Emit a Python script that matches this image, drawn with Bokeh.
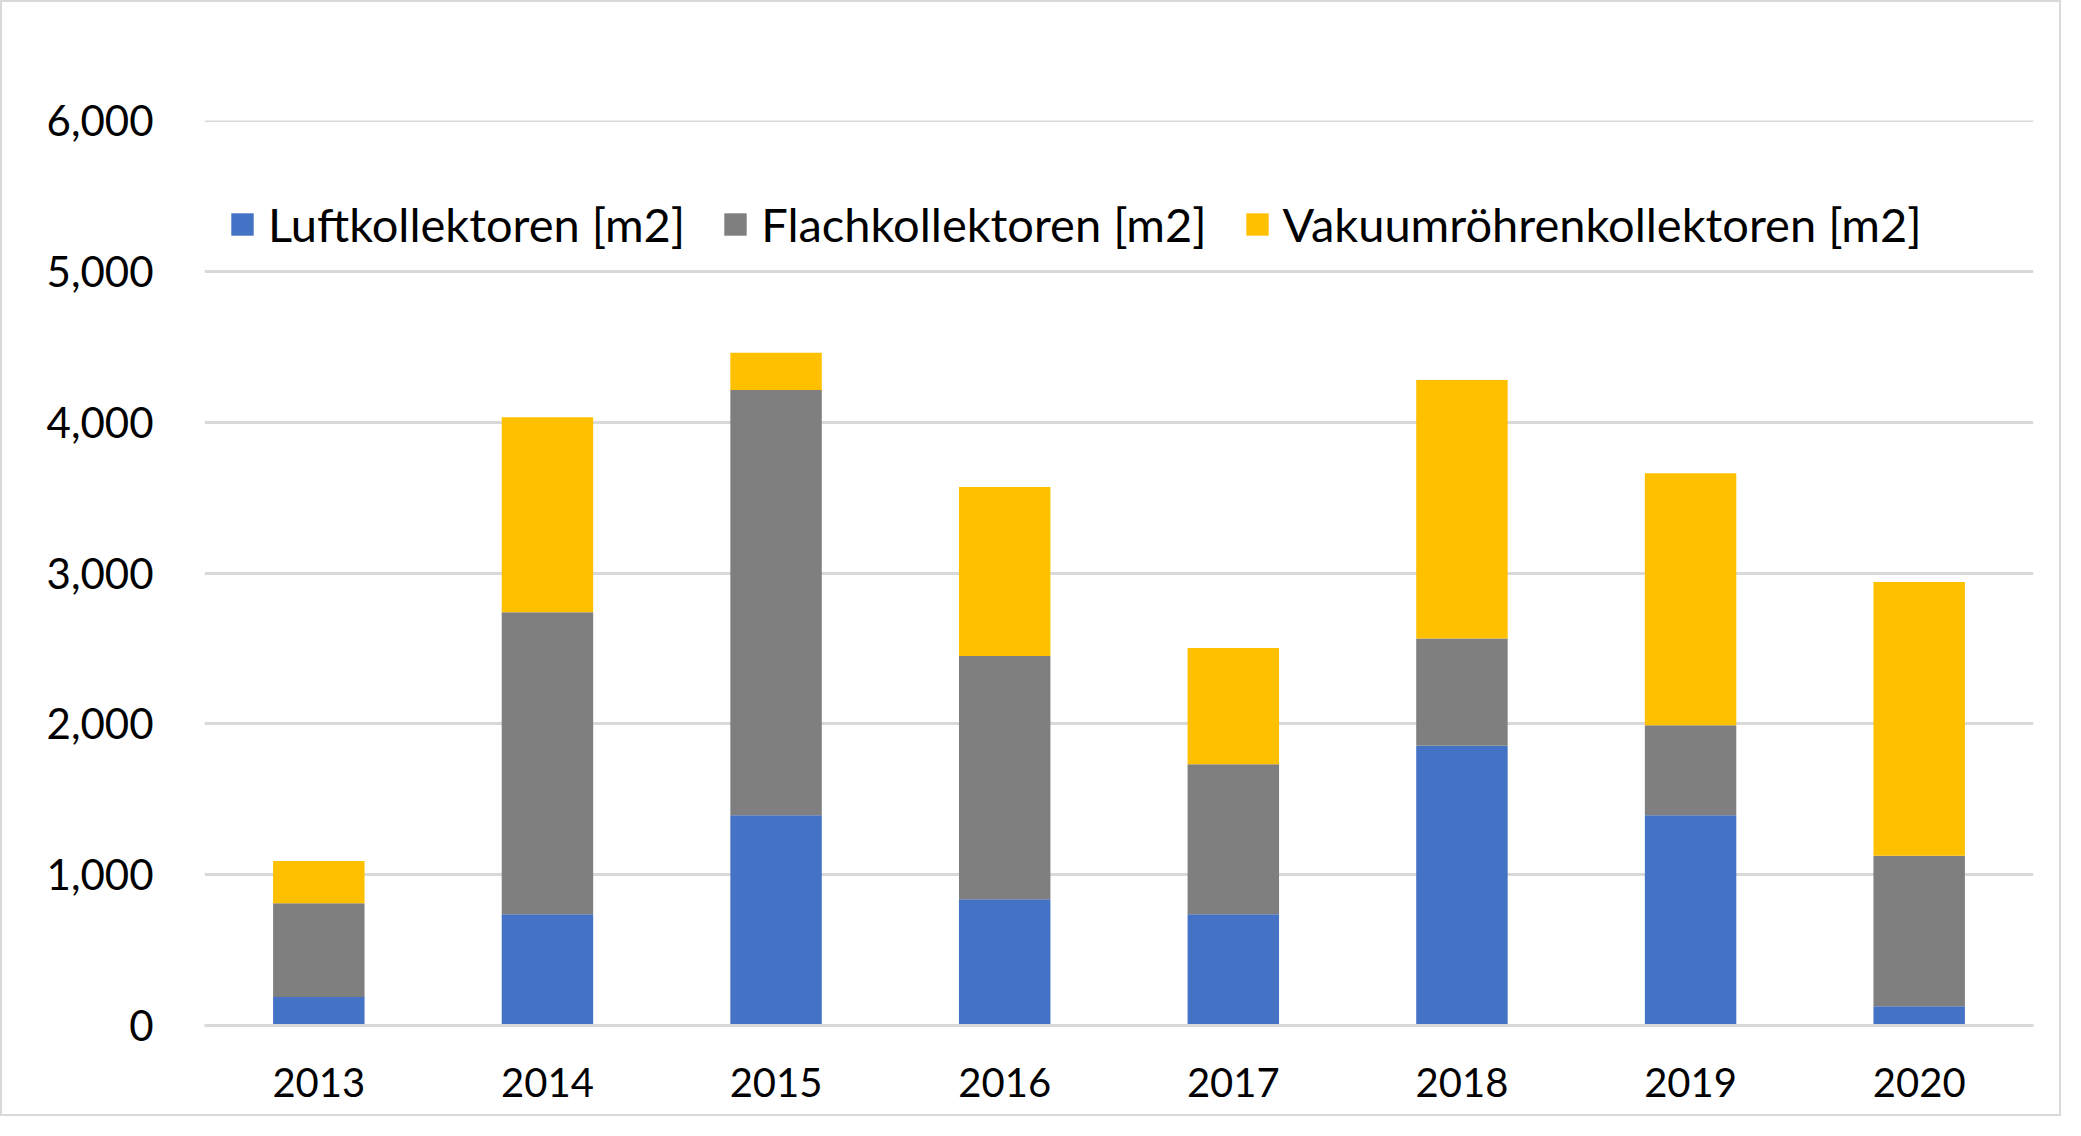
from bokeh.plotting import figure
from bokeh.models import (FactorRange, Range1d, FixedTicker, NumeralTickFormatter,
                          Legend, LegendItem, ColumnDataSource, Span)
from bokeh.embed import file_html
from bokeh.resources import INLINE

years = ["2013", "2014", "2015", "2016", "2017", "2018", "2019", "2020"]
luft = [189, 737, 1394, 837, 737, 1854, 1394, 128]
flach = [621, 2003, 2819, 1613, 995, 712, 597, 998]
vakuum = [280, 1293, 247, 1120, 770, 1714, 1671, 1815]
series_names = ["Luftkollektoren [m2]", "Flachkollektoren [m2]", "Vakuumröhrenkollektoren [m2]"]
series_keys = ["luft", "flach", "vakuum"]
colors = ["#4472C4", "#7F7F7F", "#FFC000"]
y_ticks = [0, 1000, 2000, 3000, 4000, 5000, 6000]
y_max = 6000

source = ColumnDataSource(data=dict(years=years, luft=luft, flach=flach, vakuum=vakuum))

p = figure(x_range=FactorRange(*years), y_range=Range1d(0, y_max),
           width=2061, height=1116, output_backend="svg", toolbar_location=None,
           min_border_left=202, min_border_right=30, min_border_top=118, min_border_bottom=93)
p.styles = {"border": "2px solid #D9D9D9"}
p.outline_line_color = None
p.background_fill_color = "white"
p.border_fill_color = "white"

renderers = p.vbar_stack(series_keys, x="years", width=0.4, source=source,
                         color=colors, line_color=None)

# grid
p.xgrid.grid_line_color = None
p.ygrid.grid_line_color = "#D9D9D9"
p.ygrid.grid_line_width = 3
p.ygrid.ticker = FixedTicker(ticks=y_ticks)
p.add_layout(Span(location=y_max, dimension="width", line_color="#D9D9D9", line_width=3))

# y axis
p.yaxis.ticker = FixedTicker(ticks=y_ticks)
p.yaxis.formatter = NumeralTickFormatter(format="0,0")
p.yaxis.axis_line_color = None
p.yaxis.major_tick_line_color = None
p.yaxis.minor_tick_line_color = None
p.yaxis.major_label_standoff = 45
p.yaxis.major_label_text_font = "Lato"
p.yaxis.major_label_text_font_size = "42px"
p.yaxis.major_label_text_color = "#000000"

# x axis
p.xaxis.axis_line_color = "#D9D9D9"
p.xaxis.axis_line_width = 3
p.xaxis.major_tick_line_color = None
p.xaxis.minor_tick_line_color = None
p.xaxis.major_label_standoff = 36
p.xaxis.major_label_text_font = "Lato"
p.xaxis.major_label_text_font_size = "40px"
p.xaxis.major_label_text_color = "#000000"

items = [LegendItem(label=n, renderers=[r]) for n, r in zip(series_names, renderers)]
legend = Legend(items=items, orientation="horizontal", location=(24, 773),
                glyph_width=28, glyph_height=28, label_standoff=12, spacing=36,
                padding=0, margin=0, border_line_color=None, background_fill_alpha=0,
                label_text_font="Lato", label_text_font_size="47px",
                label_text_color="#000000")
p.add_layout(legend, "center")

open("out.html", "w").write(file_html(p, INLINE))
